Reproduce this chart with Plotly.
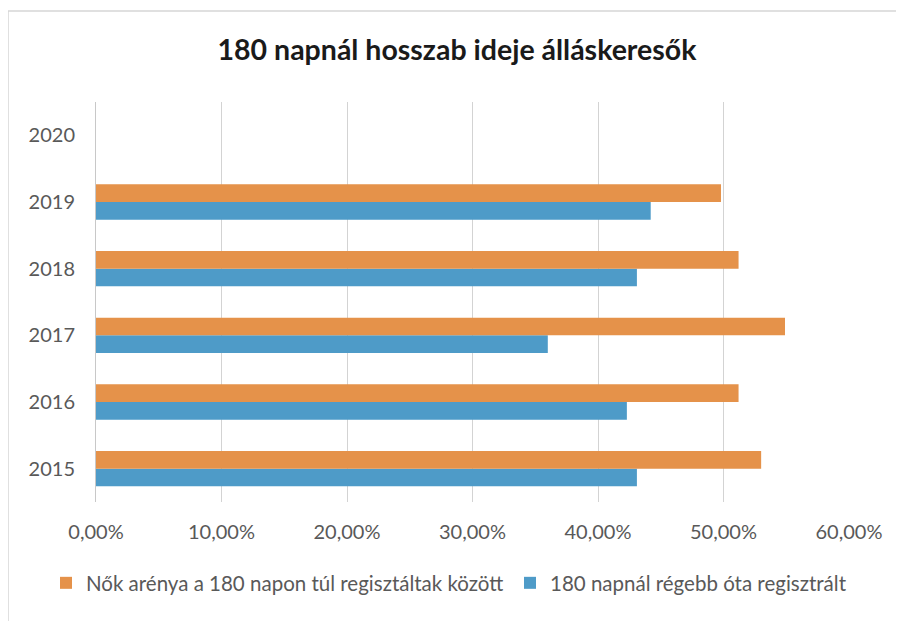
import plotly.graph_objects as go

years = ["2015", "2016", "2017", "2018", "2019", "2020"]
nok_aranya = [0.530, 0.512, 0.549, 0.512, 0.498, None]
regisztralt = [0.431, 0.423, 0.360, 0.431, 0.442, None]
x_ticks = [0, 0.1, 0.2, 0.3, 0.4, 0.5, 0.6]

name_orange = "Nők arénya a 180 napon túl regisztáltak között"
name_blue = "180 napnál régebb óta regisztrált"

# figure kept 8px smaller than the window (page body margin) to avoid scrollbars
W, H = 896, 613
L, R, T, B = 88, 55, 94, 119
pw, ph = W - L - R, H - T - B


def px_x(x):
    return (x - L) / pw


def px_y(y):
    return (H - B - y) / ph


fig = go.Figure()
fig.add_trace(go.Bar(y=years, x=regisztralt, orientation="h", name=name_blue,
                     marker=dict(color="#4E9BC8", line=dict(width=0)), legend="legend2"))
fig.add_trace(go.Bar(y=years, x=nok_aranya, orientation="h", name=name_orange,
                     marker=dict(color="#E5924A", line=dict(width=0)), legend="legend"))

# faint chart border (only top and left edges visible in the reference)
border = dict(color="#D6D6D6", width=1.5)
fig.add_shape(type="line", xref="paper", yref="paper", layer="below",
              x0=px_x(0), x1=px_x(W), y0=px_y(3), y1=px_y(3), line=border)
fig.add_shape(type="line", xref="paper", yref="paper", layer="below",
              x0=px_x(0), x1=px_x(0), y0=px_y(3), y1=px_y(H), line=border)

legend_font = dict(size=20.5, color="#595959")
fig.update_layout(
    width=W, height=H,
    paper_bgcolor="white", plot_bgcolor="white",
    separators=", ",
    font=dict(family="Lato, Open Sans, sans-serif", color="#595959", size=20),
    title=dict(text="<b>180 napnál hosszab ideje álláskeresők</b>", x=449 / W, xanchor="center",
               y=1 - 42 / H, yanchor="middle", font=dict(size=28.5, color="#1a1a1a")),
    barmode="group", bargap=0.47, bargroupgap=0,
    margin=dict(l=L, r=R, t=T, b=B, autoexpand=False),
    legend=dict(orientation="h", x=px_x(38), xanchor="left", y=px_y(575),
                yanchor="middle", font=legend_font, itemwidth=30,
                bgcolor="rgba(0,0,0,0)"),
    legend2=dict(orientation="h", x=px_x(502), xanchor="left", y=px_y(575),
                 yanchor="middle", font=legend_font, itemwidth=30,
                 bgcolor="rgba(0,0,0,0)"),
    showlegend=True,
)
fig.update_xaxes(range=[0, 0.6], tickvals=x_ticks, tickformat=".2%", showgrid=True,
                 gridcolor="#D3D3D3", gridwidth=1, zeroline=False, showline=False,
                 ticks="", ticklabelstandoff=16, automargin=False)
fig.update_yaxes(categoryorder="array", categoryarray=years, range=[-0.5, 5.5],
                 showgrid=False, showline=True, linecolor="#C8C8C8", ticks="",
                 ticklabelstandoff=16, automargin=False)

fig.write_html("out.html")
